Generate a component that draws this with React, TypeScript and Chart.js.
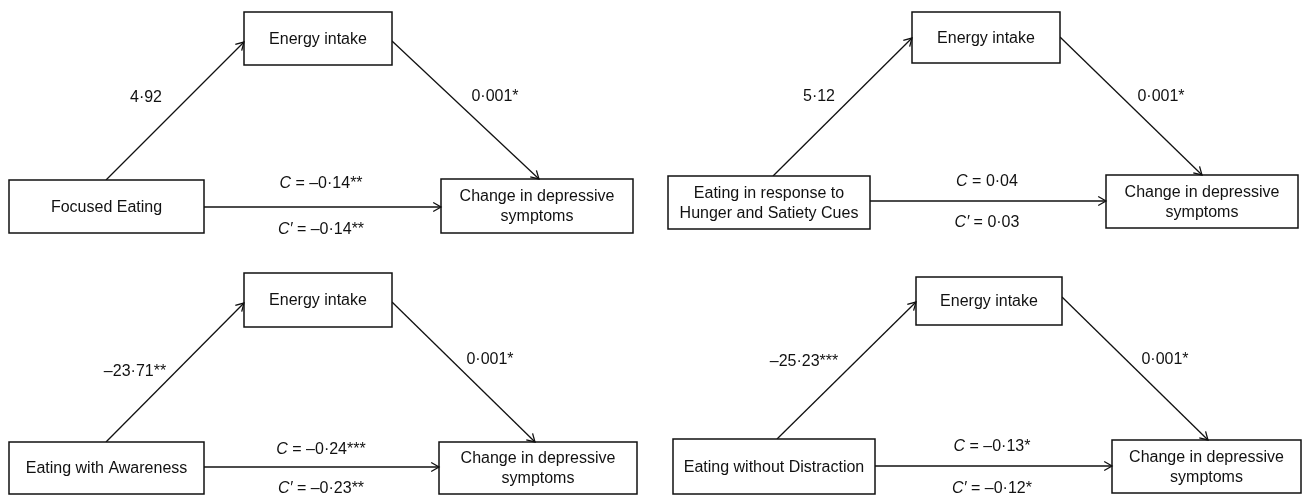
import React, { useEffect, useRef } from "react";
import { Chart, registerables } from "chart.js";

Chart.register(...registerables);

// ---- data ----
const predictors = [
  "Focused Eating",
  "Eating in response to\nHunger and Satiety Cues",
  "Eating with Awareness",
  "Eating without Distraction",
];
const mediatorLabel = "Energy intake";
const outcomeLabel = "Change in depressive\nsymptoms";
const pathA = ["4·92", "5·12", "–23·71**", "–25·23***"];
const pathB = ["0·001*", "0·001*", "0·001*", "0·001*"];
const pathC = ["–0·14**", "0·04", "–0·24***", "–0·13*"];
const pathCPrime = ["–0·14**", "0·03", "–0·23**", "–0·12*"];

// ---- layout (in the hidden scales' units) ----
type Box = [number, number, number, number]; // x1, y1, x2, y2
type Pt = [number, number];
interface Panel {
  mediator: Box;
  predictor: Box;
  outcome: Box;
  a: [Pt, Pt];
  b: [Pt, Pt];
  cy: number;
  aLab: Pt;
  bLab: Pt;
  cLab: Pt;
  cpLab: Pt;
}
const panels: Panel[] = [
  {
    mediator: [244, 12, 392, 65],
    predictor: [9, 180, 204, 233],
    outcome: [441, 179, 633, 233],
    a: [[106, 180], [244, 42]],
    b: [[392, 41], [539, 179]],
    cy: 207,
    aLab: [146, 98],
    bLab: [495, 97],
    cLab: [321, 184],
    cpLab: [321, 230],
  },
  {
    mediator: [912, 12, 1060, 63],
    predictor: [668, 176, 870, 229],
    outcome: [1106, 175, 1298, 228],
    a: [[773, 176], [912, 38]],
    b: [[1060, 37], [1202, 175]],
    cy: 201,
    aLab: [819, 97],
    bLab: [1161, 97],
    cLab: [987, 182],
    cpLab: [987, 223],
  },
  {
    mediator: [244, 273, 392, 327],
    predictor: [9, 442, 204, 494],
    outcome: [439, 442, 637, 494],
    a: [[106, 442], [244, 303]],
    b: [[392, 302], [535, 442]],
    cy: 467,
    aLab: [135, 372],
    bLab: [490, 360],
    cLab: [321, 450],
    cpLab: [321, 489],
  },
  {
    mediator: [916, 277, 1062, 325],
    predictor: [673, 439, 875, 494],
    outcome: [1112, 440, 1301, 493],
    a: [[777, 439], [916, 302]],
    b: [[1062, 297], [1208, 440]],
    cy: 466,
    aLab: [804, 362],
    bLab: [1165, 360],
    cLab: [992, 447],
    cpLab: [992, 489],
  },
];

const W = 1303;
const H = 496;
const FONT = '"Liberation Sans", Arial, sans-serif';
const INK = "#111111";

function lineDatasets() {
  const ds: any[] = [];
  panels.forEach((p) => {
    const segs: [Pt, Pt][] = [
      p.a,
      p.b,
      [
        [p.predictor[2], p.cy],
        [p.outcome[0], p.cy],
      ],
    ];
    segs.forEach((s) => {
      ds.push({
        type: "scatter",
        data: s.map(([x, y]) => ({ x, y })),
        showLine: true,
        borderColor: INK,
        borderWidth: 1.3,
        pointRadius: 0,
        pointHoverRadius: 0,
        fill: false,
      });
    });
  });
  return ds;
}

const diagramPlugin = {
  id: "mediationDiagram",
  afterDatasetsDraw(chart: any) {
    const ctx: CanvasRenderingContext2D = chart.ctx;
    const xs = chart.scales.x;
    const ys = chart.scales.y;
    const px = (v: number) => xs.getPixelForValue(v);
    const py = (v: number) => ys.getPixelForValue(v);

    const drawBox = (b: Box, text: string) => {
      const x1 = px(b[0]), y1 = py(b[1]), x2 = px(b[2]), y2 = py(b[3]);
      ctx.save();
      ctx.fillStyle = "#ffffff";
      ctx.fillRect(x1, y1, x2 - x1, y2 - y1);
      ctx.strokeStyle = INK;
      ctx.lineWidth = 1.5;
      ctx.strokeRect(x1, y1, x2 - x1, y2 - y1);
      ctx.fillStyle = INK;
      ctx.font = `16px ${FONT}`;
      ctx.textAlign = "center";
      ctx.textBaseline = "middle";
      const lines = text.split("\n");
      const lh = 20;
      const cx = (x1 + x2) / 2;
      const cy = (y1 + y2) / 2;
      lines.forEach((l, i) => {
        ctx.fillText(l, cx, cy + (i - (lines.length - 1) / 2) * lh + 1);
      });
      ctx.restore();
    };

    const arrowHead = (s: Pt, e: Pt) => {
      const sx = px(s[0]), sy = py(s[1]), ex = px(e[0]), ey = py(e[1]);
      const ang = Math.atan2(ey - sy, ex - sx);
      const L = 9;
      const th = (30 * Math.PI) / 180;
      ctx.save();
      ctx.strokeStyle = INK;
      ctx.lineWidth = 1.3;
      ctx.beginPath();
      ctx.moveTo(ex - L * Math.cos(ang - th), ey - L * Math.sin(ang - th));
      ctx.lineTo(ex, ey);
      ctx.lineTo(ex - L * Math.cos(ang + th), ey - L * Math.sin(ang + th));
      ctx.stroke();
      ctx.restore();
    };

    const plainLabel = (p: Pt, t: string) => {
      ctx.save();
      ctx.fillStyle = INK;
      ctx.font = `16px ${FONT}`;
      ctx.textAlign = "center";
      ctx.textBaseline = "middle";
      ctx.fillText(t, px(p[0]), py(p[1]));
      ctx.restore();
    };

    const cLabel = (p: Pt, sym: string, val: string) => {
      ctx.save();
      ctx.fillStyle = INK;
      ctx.textBaseline = "middle";
      ctx.textAlign = "left";
      const italic = `italic 16px ${FONT}`;
      const normal = `16px ${FONT}`;
      const rest = ` = ${val}`;
      ctx.font = italic;
      const w1 = ctx.measureText(sym).width;
      ctx.font = normal;
      const w2 = ctx.measureText(rest).width;
      const x = px(p[0]) - (w1 + w2) / 2;
      const y = py(p[1]);
      ctx.font = italic;
      ctx.fillText(sym, x, y);
      ctx.font = normal;
      ctx.fillText(rest, x + w1, y);
      ctx.restore();
    };

    panels.forEach((p, i) => {
      drawBox(p.mediator, mediatorLabel);
      drawBox(p.predictor, predictors[i]);
      drawBox(p.outcome, outcomeLabel);
      arrowHead(p.a[0], p.a[1]);
      arrowHead(p.b[0], p.b[1]);
      arrowHead([p.predictor[2], p.cy], [p.outcome[0], p.cy]);
      plainLabel(p.aLab, pathA[i]);
      plainLabel(p.bLab, pathB[i]);
      cLabel(p.cLab, "C", pathC[i]);
      cLabel(p.cpLab, "C′", pathCPrime[i]);
    });
  },
};

export default function App() {
  const ref = useRef<HTMLCanvasElement | null>(null);
  useEffect(() => {
    if (!ref.current) return;
    const chart = new Chart(ref.current, {
      type: "scatter",
      data: { datasets: lineDatasets() },
      options: {
        animation: false,
        responsive: false,
        devicePixelRatio: 1,
        layout: { padding: 0 },
        plugins: {
          legend: { display: false },
          tooltip: { enabled: false },
        },
        events: [],
        scales: {
          x: { type: "linear", min: 0, max: W, display: false },
          y: { type: "linear", min: 0, max: H, reverse: true, display: false },
        },
      },
      plugins: [diagramPlugin],
    });
    return () => chart.destroy();
  }, []);
  return (
    <div style={{ position: "fixed", left: 0, top: 0, width: W, height: H, background: "#fff" }}>
      <canvas ref={ref} width={W} height={H} style={{ display: "block" }} />
    </div>
  );
}
